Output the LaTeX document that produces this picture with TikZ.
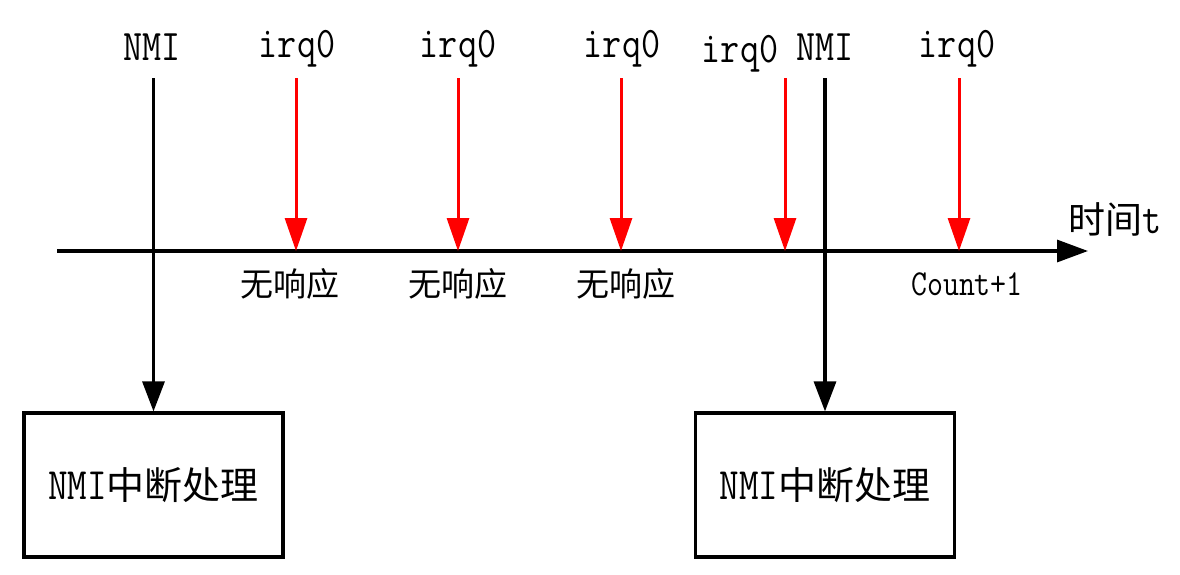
\documentclass[tikz,border=0pt]{standalone}
\usepackage{fontspec}
\newfontfamily\cjk{Noto Sans CJK SC}
\usetikzlibrary{arrows.meta}
\newcommand\mylat[1]{\scalebox{1}[1.18]{\ttfamily #1}}
\begin{document}
\begin{tikzpicture}[x=1pt,y=-1pt,
  blk/.style={line width=3.2pt,black,-{Triangle[width=22pt,length=30pt]}},
  redarr/.style={line width=3pt,red,-{Triangle[width=22pt,length=33pt]}},
  lab/.style={inner sep=0pt,font=\fontsize{37}{40}\selectfont},
  cn/.style={inner sep=0pt,font=\fontsize{33}{36}\selectfont\cjk},
  cnt/.style={inner sep=0pt,font=\fontsize{31}{34}\selectfont},
  box/.style={draw,line width=3.2pt,minimum width=259pt,minimum height=144pt,inner sep=0pt,font=\fontsize{38}{42}\selectfont\cjk}]
\useasboundingbox (0,0) rectangle (1180,574);
% axis
\coordinate (ax0) at (57,251);
\coordinate (ax1) at (1088,251);
\draw[line width=3.2pt,-{Triangle[width=22pt,length=31pt]}] (ax0) -- (ax1);
\node[inner sep=0pt,font=\fontsize{37}{40}\selectfont] (t) at (1115,220) {{\cjk 时间}\mylat{t}};
% top labels
\node[lab] (nmi1) at (152,47) {\mylat{NMI}};
\node[lab] (q1) at (297,49) {\mylat{irq0}};
\node[lab] (q2) at (458,49) {\mylat{irq0}};
\node[lab] (q3) at (622,49) {\mylat{irq0}};
\node[lab] (q4) at (740,54) {\mylat{irq0}};
\node[lab] (nmi2) at (825,47) {\mylat{NMI}};
\node[lab] (q5) at (957,49) {\mylat{irq0}};
% boxes
\node[box] (b1) at (153.5,485) {\mylat{NMI}中断处理};
\node[box] (b2) at (825,485) {\mylat{NMI}中断处理};
% start coordinates
\coordinate (s1) at (153.5,78);
\coordinate (s2) at (825,78);
\coordinate (r1a) at (296,78); \coordinate (r1b) at (296,251);
\coordinate (r2a) at (458,78); \coordinate (r2b) at (458,251);
\coordinate (r3a) at (621,78); \coordinate (r3b) at (621,251);
\coordinate (r4a) at (785,78); \coordinate (r4b) at (785,251);
\coordinate (r5a) at (959,78); \coordinate (r5b) at (959,251);
\draw[blk] (s1) -- (b1.north);
\draw[blk] (s2) -- (b2.north);
\draw[redarr] (r1a) -- (r1b);
\draw[redarr] (r2a) -- (r2b);
\draw[redarr] (r3a) -- (r3b);
\draw[redarr] (r4a) -- (r4b);
\draw[redarr] (r5a) -- (r5b);
% below labels
\node[cn] (w1) at (290,284) {无响应};
\node[cn] (w2) at (458,284) {无响应};
\node[cn] (w3) at (626,284) {无响应};
\node[cnt] (c1) at (967,284) {\mylat{Count+1}};
\end{tikzpicture}
\end{document}
